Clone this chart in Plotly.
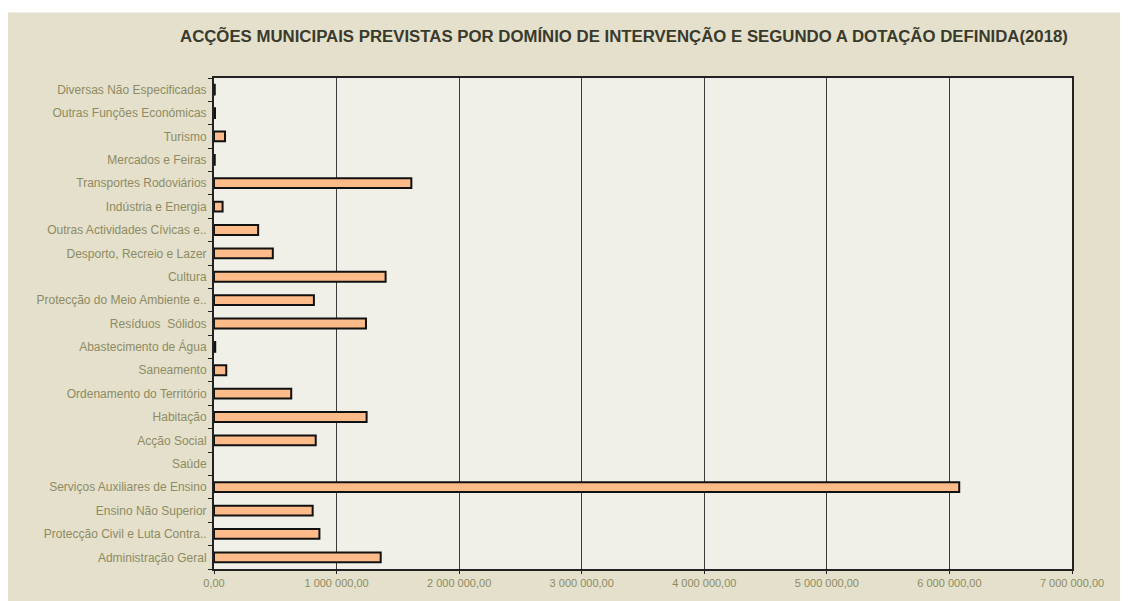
import plotly.graph_objects as go

categories = [
    "Administração Geral",
    "Protecção Civil e Luta Contra..",
    "Ensino Não Superior",
    "Serviços Auxiliares de Ensino",
    "Saúde",
    "Acção Social",
    "Habitação",
    "Ordenamento do Território",
    "Saneamento",
    "Abastecimento de Água",
    "Resíduos  Sólidos",
    "Protecção do Meio Ambiente e..",
    "Cultura",
    "Desporto, Recreio e Lazer",
    "Outras Actividades Cívicas e..",
    "Indústria e Energia",
    "Transportes Rodoviários",
    "Mercados e Feiras",
    "Turismo",
    "Outras Funções Económicas",
    "Diversas Não Especificadas",
]
values = [
    1360000, 860000, 805000, 6080000, 0, 830000, 1245000, 630000, 100000, 10000,
    1240000, 815000, 1400000, 480000, 360000, 70000, 1610000, 6000, 90000, 8000, 6000,
]
x_tick_vals = [0, 1000000, 2000000, 3000000, 4000000, 5000000, 6000000, 7000000]

title_text = "ACÇÕES MUNICIPAIS PREVISTAS POR DOMÍNIO DE INTERVENÇÃO E SEGUNDO A DOTAÇÃO DEFINIDA(2018)"

outline_widths = [2 if v > 0 else 0 for v in values]

fig = go.Figure(
    go.Bar(
        x=values,
        y=categories,
        orientation="h",
        marker=dict(color="#FDBB8A", line=dict(color="#111111", width=outline_widths)),
        hoverinfo="x+y",
    )
)

label_color = "#8E8B62"

# page body has an 8px margin: figure sits at (8, 8)
fig.update_layout(
    width=1120,
    height=593,
    paper_bgcolor="#E4E0CC",
    plot_bgcolor="#F1F0E8",
    margin=dict(l=206, r=56, t=70, b=29, pad=0),
    bargap=0.58,
    separators=", ",
    showlegend=False,
    title=dict(
        text=title_text,
        xref="container",
        x=0.55,
        xanchor="center",
        y=0.953,
        yanchor="middle",
        font=dict(family="Liberation Sans Narrow, Arial Narrow, Liberation Sans", size=16.8, color="#3A3A2C", weight="bold"),
    ),
    shapes=[
        dict(type="rect", xref="paper", yref="paper", x0=-0.3, x1=1.1, y0=(564 - 4) / 494, y1=1.3,
             fillcolor="white", line=dict(width=0), layer="below"),
    ],
)

fig.update_xaxes(
    range=[0, 7000000],
    tickvals=x_tick_vals,
    tickformat=",.2f",
    showgrid=True,
    gridcolor="#3A3A3A",
    gridwidth=1,
    zeroline=False,
    showline=True,
    linecolor="#222222",
    linewidth=1.5,
    mirror=True,
    ticks="outside",
    ticklen=3,
    tickcolor="#222222",
    tickfont=dict(family="Liberation Sans Narrow, Arial Narrow, Liberation Sans", size=11, color=label_color),
    fixedrange=True,
)
fig.update_yaxes(
    type="category",
    categoryorder="array",
    categoryarray=categories,
    range=[-0.5, len(categories) - 0.5],
    showgrid=False,
    zeroline=False,
    showline=True,
    linecolor="#222222",
    linewidth=2,
    mirror=True,
    ticks="outside",
    tickson="boundaries",
    ticklen=4,
    tickcolor="#222222",
    ticklabelstandoff=3,
    tickfont=dict(family="Liberation Sans, Arial", size=12, color=label_color),
    fixedrange=True,
)

fig.write_html("out.html")
